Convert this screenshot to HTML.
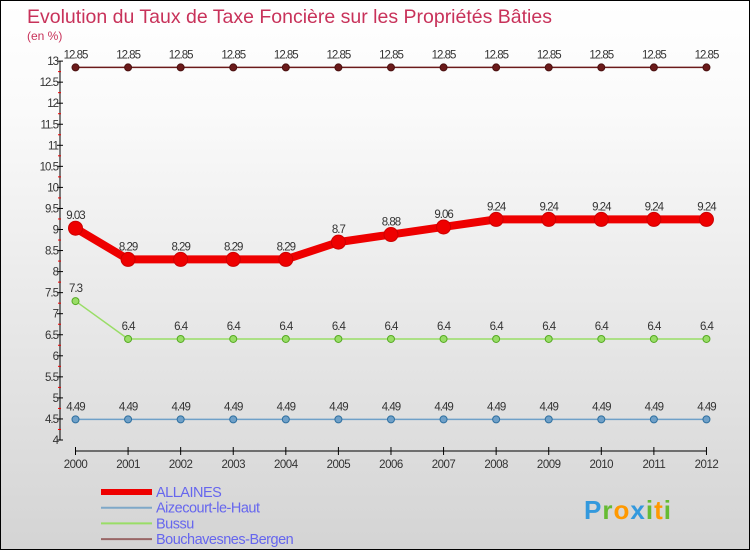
<!DOCTYPE html>
<html><head><meta charset="utf-8"><style>
body{margin:0;width:750px;height:550px;overflow:hidden}
#c{position:relative;width:748px;height:548px;border:1px solid #000;background:linear-gradient(#fff,#fafafa 20%,#d4d4d4);font-family:"Liberation Sans",sans-serif}
</style></head><body>
<div id="c">
<svg id="s" width="748" height="548"></svg>
</div>
<script>
const years=[2000,2001,2002,2003,2004,2005,2006,2007,2008,2009,2010,2011,2012];
const allaines=[9.03,8.29,8.29,8.29,8.29,8.7,8.88,9.06,9.24,9.24,9.24,9.24,9.24];
const aizecourt=[4.49,4.49,4.49,4.49,4.49,4.49,4.49,4.49,4.49,4.49,4.49,4.49,4.49];
const bussu=[7.3,6.4,6.4,6.4,6.4,6.4,6.4,6.4,6.4,6.4,6.4,6.4,6.4];
const bouch=[12.85,12.85,12.85,12.85,12.85,12.85,12.85,12.85,12.85,12.85,12.85,12.85,12.85];
const yTicks=[4,4.5,5,5.5,6,6.5,7,7.5,8,8.5,9,9.5,10,10.5,11,11.5,12,12.5,13];
const NS="http://www.w3.org/2000/svg",s=document.getElementById('s');
const X=i=>74.5+i*52.58, Y=v=>439-(v-4)*42.1;
function el(t,a,p){const e=document.createElementNS(NS,t);for(const k in a)e.setAttribute(k,a[k]);(p||s).appendChild(e);return e;}
let t=el('text',{x:26,y:22,'font-size':19.5,fill:'#c8325a'});t.textContent='Evolution du Taux de Taxe Foncière sur les Propriétés Bâties';


t=el('text',{x:26,y:39,'font-size':12,fill:'#c8325a'});t.textContent='(en %)';


let ya=el('line',{x1:59,y1:Y(13),x2:59,y2:Y(4),stroke:'#000'});


for(let v=4;v<=13.001;v+=0.25){const major=Math.abs(v*2-Math.round(v*2))<1e-6;
 el('line',{x1:major?56:57,y1:Y(v),x2:major?62:60,y2:Y(v),stroke:major?'#000':'#e00'});}
yTicks.forEach(v=>{const tt=el('text',{x:57,y:Y(v)+4,'font-size':11.5,fill:'#333','text-anchor':'end','letter-spacing':'-1'});tt.textContent=String(v);
 
 });
let xa=el('line',{x1:X(0),y1:450,x2:X(12),y2:450,stroke:'#000'});


years.forEach((y,i)=>{el('line',{x1:X(i),y1:446,x2:X(i),y2:454,stroke:'#000'});
 const tt=el('text',{x:X(i),y:467,'font-size':11.5,fill:'#333','text-anchor':'middle','letter-spacing':'-0.5'});tt.textContent=y;
 
 });
function series(d,col,w,r,name,dot){
 const pl=el('polyline',{points:d.map((v,i)=>X(i)+','+Y(v)).join(' '),fill:'none',stroke:col,'stroke-width':w,'stroke-linejoin':'round'});
 
 
 d.forEach((v,i)=>{const c=el('circle',{cx:X(i),cy:Y(v),r:r,fill:col,stroke:dot,'stroke-width':1});
  
  
  const tt=el('text',{x:X(i),y:Y(v)-9,'font-size':11.5,fill:'#333','text-anchor':'middle','letter-spacing':'-1'});tt.textContent=String(v);
  
  });
}
series(bouch,'#6b1a1a',1.5,3.5,'bouchavesnes','#4a1010');
series(aizecourt,'#6fa0c8',1.5,3.5,'aizecourt','#2f70a0');
series(bussu,'#99dd66',1.5,3.5,'bussu','#55aa22');
series(allaines,'#ee0000',8,7,'allaines','#cc0000');
const leg=[['ALLAINES','#ee0000',6],['Aizecourt-le-Haut','#7fa8c8',2],['Bussu','#99dd66',2],['Bouchavesnes-Bergen','#996666',2]];
leg.forEach((l,i)=>{const y=491+i*15.7;
 const g=el('g',{});
 
 
 el('line',{x1:100,y1:y,x2:151,y2:y,stroke:l[1],'stroke-width':l[2]},g);
 const tt=el('text',{x:155,y:y+5,'font-size':14.5,fill:'#6666ee','letter-spacing':'-0.5'},g);tt.textContent=l[0];});
const lg=el('text',{x:583,y:518,'font-size':26,'font-weight':'bold','letter-spacing':'1'});


[['P','#3399dd'],['r','#66bb33'],['o','#ff9900'],['x','#3399dd'],['i','#66bb33'],['t','#ff9900'],['i','#66bb33']].forEach(p=>{const ts=el('tspan',{fill:p[1]},lg);ts.textContent=p[0];});
</script>
</body></html>
